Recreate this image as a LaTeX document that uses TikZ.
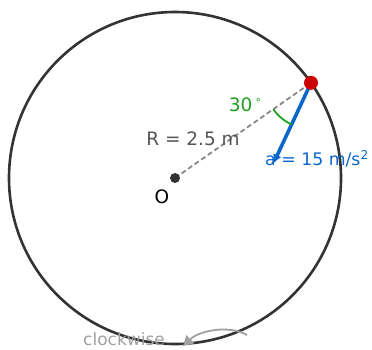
\documentclass[tikz,border=0pt]{standalone}
\usepackage{fontspec}
\setmainfont{DejaVu Sans}
\usetikzlibrary{arrows.meta,calc}
\definecolor{ringc}{HTML}{333333}
\definecolor{dashc}{HTML}{888888}
\definecolor{bluec}{HTML}{0B66CC}
\definecolor{redc}{HTML}{CC0000}
\definecolor{greenc}{HTML}{1EA01E}
\definecolor{labc}{HTML}{555555}
\definecolor{cwc}{HTML}{A0A0A0}
\tikzset{
  ring/.style={draw=ringc, line width=2.6pt},
  radius line/.style={draw=dashc, line width=1.8pt, dash pattern=on 5pt off 3pt},
  accel/.style={draw=bluec, line width=3.6pt, -{Latex[length=9pt,width=9pt]}},
  anglearc/.style={draw=greenc, line width=1.8pt},
  lab/.style={inner sep=0pt, font=\fontsize{18.5}{20}\selectfont},
}
\begin{document}
\begin{tikzpicture}[x=1pt,y=-1pt]
\useasboundingbox (0,0) rectangle (372,349);
\coordinate (O) at (175,178);
\draw[ring] (O) circle[radius=166];
\coordinate (P) at ($(O)+(136,-95.2)$);
\draw[radius line] (O) -- (P);
\path (P) ++(-37.6,80.7) coordinate (A);
\draw[accel] (P) -- (A);
\draw[anglearc] ($(P)+(-37.7,26.4)$) arc[start angle=145, end angle=115, radius=46];
\fill[redc] (P) circle[radius=7];
\fill[ringc] (O) circle[radius=5];
\node[lab, text=black] (Ol) at (162,197) {O};
\node[lab, text=labc] (Rl) at (193,139) {R = 2.5 m};
\node[lab, text=greenc] (ang) at (245,105) {30\,\raisebox{0.55ex}{\fontsize{11}{12}\selectfont°}};
\node[lab, text=bluec, anchor=west, font=\fontsize{17.3}{19}\selectfont] (al) at (265,159) {a = 15 m/s\textsuperscript{2}};
\node[inner sep=0pt, text=cwc, font=\fontsize{17}{18}\selectfont] (cw) at (124,339) {clockwise};
\coordinate (cs) at (247,335);
\coordinate (ce) at (183,346);
\draw[draw=cwc, line width=1.8pt, -{Triangle[length=10pt,width=11pt]}] (cs) .. controls (230,325) and (200,330) .. (ce);
\end{tikzpicture}
\end{document}
